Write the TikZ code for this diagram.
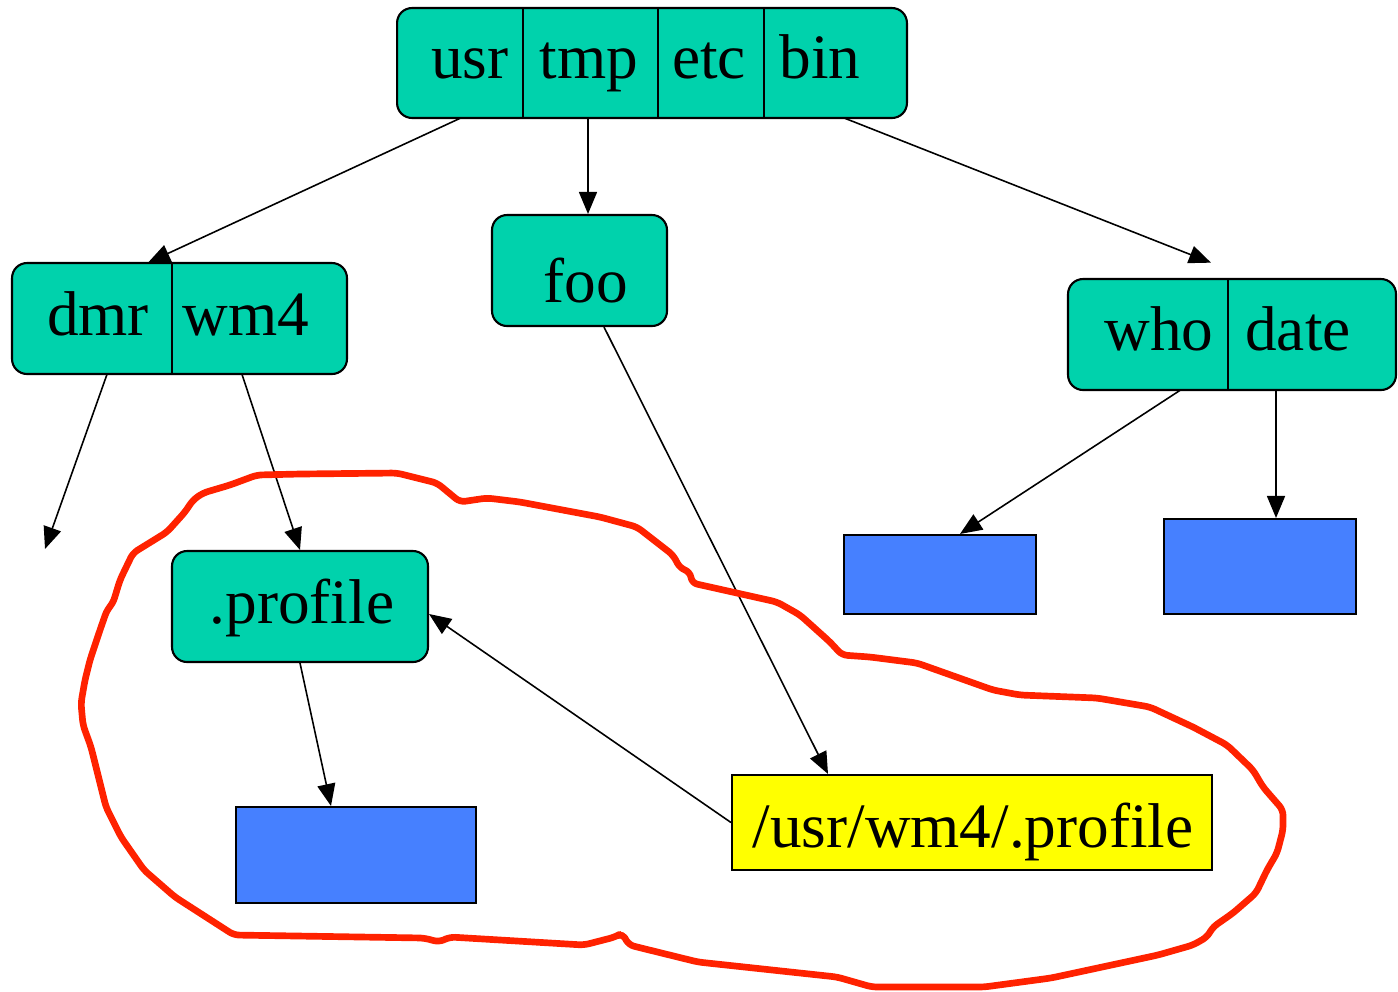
\documentclass[tikz,border=0pt]{standalone}
\usepackage{fontspec}
\setmainfont{Liberation Serif}
\usetikzlibrary{arrows.meta,calc}
\definecolor{teal1}{RGB}{0,210,172}
\definecolor{blue1}{RGB}{70,128,255}
\definecolor{yel1}{RGB}{255,255,0}
\definecolor{red1}{RGB}{255,34,0}
\begin{document}
\begin{tikzpicture}[x=0.02cm,y=-0.02cm,
  outerbox/.style={draw=black,line width=1.2pt,fill=teal1,rounded corners=0.3cm,inner sep=0pt},
  cell/.style={inner sep=0pt,minimum height=2.2cm},
  lbl/.style={anchor=base,inner sep=0pt,font=\fontsize{36}{43}\selectfont},
  bluebox/.style={draw=black,line width=1.2pt,fill=blue1,inner sep=0pt},
  conn/.style={line width=0.9pt,-{Triangle[length=0.44cm,width=0.36cm]}},
  divider/.style={line width=1.1pt}]
\useasboundingbox (0,0) rectangle (1398,991);

% ---- top directory ----
\node[outerbox,minimum width=10.2cm,minimum height=2.2cm] (root) at (652,63) {};
\node[cell,minimum width=2.52cm] (usr) at (460,63) {};
\node[cell,minimum width=2.70cm] (tmp) at (590.5,63) {};
\node[cell,minimum width=2.12cm] (etc) at (711,63) {};
\node[cell,minimum width=2.86cm] (bin) at (835.5,63) {};
\draw[divider] (usr.north east) -- (usr.south east);
\draw[divider] (tmp.north east) -- (tmp.south east);
\draw[divider] (etc.north east) -- (etc.south east);
\node[lbl] (tusr) at (470,78) {usr};
\node[lbl] (ttmp) at (589,78) {tmp};
\node[lbl] (tetc) at (709,78) {etc};
\node[lbl] (tbin) at (820,78) {bin};

% ---- usr directory ----
\node[outerbox,minimum width=6.7cm,minimum height=2.22cm] (usrdir) at (179.5,318.5) {};
\node[cell,minimum width=3.2cm,minimum height=2.22cm] (dmr) at (92,318.5) {};
\node[cell,minimum width=3.5cm,minimum height=2.22cm] (wm4) at (259.5,318.5) {};
\draw[divider] (dmr.north east) -- (dmr.south east);
\node[lbl] (tdmr) at (98,335) {dmr};
\node[lbl] (twm4) at (246,335) {wm4};

% ---- tmp directory ----
\node[outerbox,minimum width=3.5cm,minimum height=2.22cm] (foo) at (579.5,270.5) {};
\node[lbl] (tfoo) at (586,302) {foo};

% ---- bin directory ----
\node[outerbox,minimum width=6.56cm,minimum height=2.22cm] (bindir) at (1232,334.5) {};
\node[cell,minimum width=3.2cm,minimum height=2.22cm] (who) at (1148,334.5) {};
\node[cell,minimum width=3.36cm,minimum height=2.22cm] (date) at (1312,334.5) {};
\draw[divider] (who.north east) -- (who.south east);
\node[lbl] (twho) at (1159,350) {who};
\node[lbl] (tdate) at (1298,350) {date};

% ---- .profile ----
\node[outerbox,minimum width=5.12cm,minimum height=2.22cm] (profile) at (300,606.5) {};
\node[lbl] (tprofile) at (302,623) {.profile};

% ---- data blocks ----
\node[bluebox,minimum width=3.84cm,minimum height=1.58cm] (b1) at (940,574.5) {};
\node[bluebox,minimum width=3.84cm,minimum height=1.9cm] (b2) at (1260,566.5) {};
\node[bluebox,minimum width=4.8cm,minimum height=1.92cm] (b3) at (356,855) {};

% ---- link ----
\node[draw=black,line width=1.2pt,fill=yel1,minimum width=9.6cm,minimum height=1.9cm,inner sep=0pt] (link) at (972,822.5) {};
\node[lbl] (tlink) at (973,847) {/usr/wm4/.profile};

\coordinate (dmrend) at (45,549);

% ---- connectors ----
\draw[conn] (usr.south) -- ($(dmr.north)+(56,0)$);
\draw[conn] ($(tmp.south)+(-2.5,0)$) -- ($(foo.north)+(8.5,0)$);
\draw[conn] ($(bin.south)+(9.5,0)$) -- ($(who.north)+(63,-16)$);
\draw[conn] ($(dmr.south)+(15,0)$) -- (dmrend);
\draw[conn] ($(wm4.south)+(-17.5,0)$) -- (profile.north);
\draw[conn] ($(foo.south)+(24.5,0)$) -- ($(link.north)+(-144,0)$);
\draw[conn] ($(who.south)+(32,0)$) -- ($(b1.north)+(20,0)$);
\draw[conn] ($(date.south)+(-36,0)$) -- ($(b2.north)+(16,0)$);
\draw[conn] (profile.south) -- ($(b3.north)+(-25,0)$);
\draw[conn] (link.west) -- ($(profile.east)+(0,7.5)$);

% ---- hand-drawn red loop ----
\draw[red1,line width=3.8pt,line join=round,line cap=round,rounded corners=3pt]
 (234,935) -- (175,897) -- (144,870) -- (121,837) -- (106,807) -- (91,747) -- (83,725)
 -- (81,703) -- (85,680) -- (90,660) -- (100,630) -- (107,610) -- (113,603) -- (120,580)
 -- (133,553) -- (167,532) -- (185,512) -- (193,500) -- (203,493) -- (230,485) -- (257,475)
 -- (300,474) -- (397,473) -- (437,483) -- (460,502) -- (487,498) -- (520,502) -- (600,517)
 -- (637,527) -- (673,555) -- (680,568) -- (690,572) -- (692,583) -- (710,587) -- (777,602)
 -- (800,615) -- (830,642) -- (842,655) -- (870,657) -- (917,663) -- (993,690) -- (1020,695)
 -- (1097,698) -- (1150,707) -- (1193,727) -- (1227,745) -- (1253,770) -- (1263,787)
 -- (1283,810) -- (1283,830) -- (1277,853) -- (1267,870) -- (1256,893) -- (1233,913)
 -- (1213,927) -- (1207,937) -- (1193,945) -- (1158,955) -- (1051,978) -- (984,987)
 -- (872,987) -- (837,977) -- (698,962) -- (629,945) -- (622,933) -- (615,937) -- (584,945)
 -- (450,937) -- (439,942) -- (424,938) -- cycle;
\end{tikzpicture}
\end{document}
